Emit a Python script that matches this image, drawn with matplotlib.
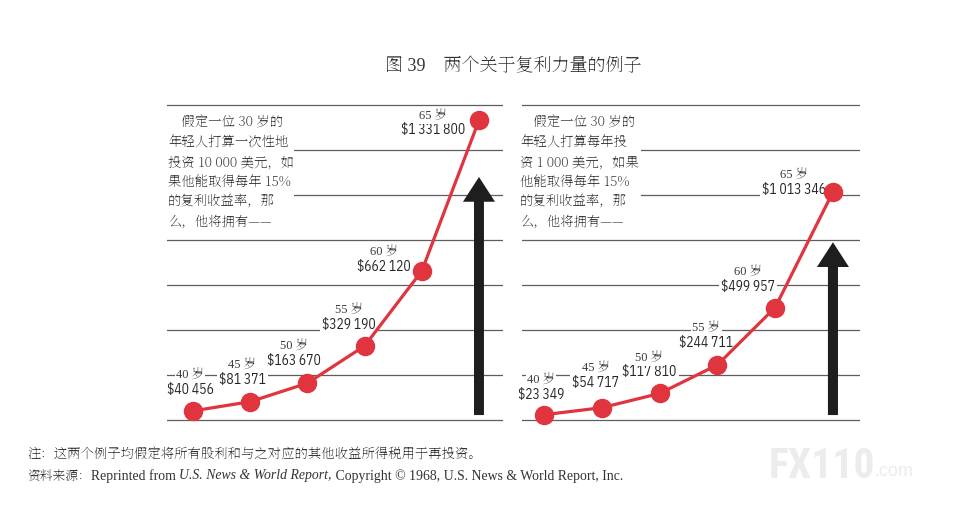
import matplotlib
matplotlib.use('Agg')
import matplotlib.pyplot as plt
from matplotlib.patches import Rectangle
import numpy as np

SERIF_CJK = ['Noto Serif SC', 'Noto Sans CJK SC', 'DejaVu Sans']
plt.rcParams['font.family'] = SERIF_CJK

# data
ages = [40, 45, 50, 55, 60, 65]
lump_sum = [40456, 81371, 163670, 329190, 662120, 1331800]
yearly = [23349, 54717, 117810, 244711, 499957, 1013346]
lump_labels = ['$40\u2009456', '$81\u2009371', '$163\u2009670', '$329\u2009190',
               '$662\u2009120', '$1\u2009331\u2009800']
yearly_labels = ['$23\u2009349', '$54\u2009717', '$117\u2009810', '$244\u2009711',
                 '$499\u2009957', '$1\u2009013\u2009346']
grid_values = np.arange(0, 1400001, 200000)
arrow_top = [1080000, 790000]

title = '图 39　两个关于复利力量的例子'
left_text = ['　假定一位 30 岁的', '年轻人打算一次性地', '投资 10 000 美元，如',
             '果他能取得每年 15%', '的复利收益率，那', '么，他将拥有——']
right_text = ['　假定一位 30 岁的', '年轻人打算每年投', '资 1 000 美元，如果',
              '他能取得每年 15%', '的复利收益率，那', '么，他将拥有——']
note = '注：这两个例子均假定将所有股利和与之对应的其他收益所得税用于再投资。'

W, H = 963, 530
RED = '#e0343f'
INK = '#262626'
NUM_FONT = ['IBM Plex Sans Condensed', 'PT Sans Narrow', 'Liberation Sans', 'DejaVu Sans']
AGE_FONT = ['Liberation Serif', 'Noto Serif SC', 'Noto Sans CJK SC']
LATIN_SERIF = ['Liberation Serif', 'Noto Serif SC', 'Noto Sans CJK SC']

# label offsets in pixels (dx, dy of the dollar line) for each point
left_offsets = [(-3, 21), (-8, 22), (-13, 22), (-16, 21), (-38, 4), (-46, -10)]
right_offsets = [(-3, 20), (-6, 25), (-10, 21), (-11, 22), (-27, 21), (-39, 2)]

fig = plt.figure(figsize=(W / 100, H / 100), dpi=100)
fig.patch.set_facecolor('white')


def fx(x):
        return x / W


def fy(y):
        return 1 - y / H


def panel(x0, x1, xlim, values, labels, offsets, top, head_w, shaft_w):
        ax = fig.add_axes([fx(x0), fy(425), fx(x1 - x0), 330 / H])
        ax.set_xlim(*xlim)
        ax.set_ylim(-22222, 1444444)
        ax.axis('off')
        for g in grid_values:
                ax.axhline(g, color='#5e5e5e', lw=0.9, zorder=1)
        ax.arrow(ages[-1], 22000, 0, top - 22000, width=shaft_w,
                 head_width=head_w, head_length=110000,
                 length_includes_head=True, color='#1e1e1e', lw=0, zorder=2)
        ax.plot(ages, values, color=RED, lw=2.3, zorder=4,
                marker='o', markersize=13, markerfacecolor=RED,
                markeredgecolor=RED)
        for a, v, lab, (dx, dy) in zip(ages, values, labels, offsets):
                ax.annotate(lab, (a, v), xytext=(dx, dy), textcoords='offset pixels',
                            ha='center', va='center', fontsize=9.8, color=INK,
                            family=NUM_FONT, zorder=3,
                            bbox=dict(boxstyle='square,pad=0.15', fc='white', ec='none'))
                ax.annotate('%d 岁' % a, (a, v), xytext=(dx, dy + 14),
                            textcoords='offset pixels', ha='center', va='center',
                            fontsize=9, color='#3a3a3a', family=AGE_FONT, zorder=3,
                            bbox=dict(boxstyle='square,pad=0.1', fc='white', ec='none'))
        return ax


panel(167, 503, (37.73, 67.10), lump_sum, lump_labels, left_offsets,
      arrow_top[0], 2.8, 0.87)
panel(522, 860, (38.10, 67.34), yearly, yearly_labels, right_offsets,
      arrow_top[1], 2.77, 0.87)

fig.text(fx(513), fy(67), title, ha='center', va='center', fontsize=13,
         family=LATIN_SERIF, color='#333333')

# the two explanatory paragraphs, on a white patch that breaks the grid lines
for x0, x1, lines in [(168, 294, left_text), (520, 641, right_text)]:
        fig.patches.append(Rectangle((fx(x0 - 2), fy(232)), fx(x1 - x0 + 2), 120 / H,
                                     transform=fig.transFigure, fc='white', ec='none',
                                     zorder=1))
        for i, line in enumerate(lines):
                fig.text(fx(x0), fy(123 + 19.7 * i), line, ha='left', va='center',
                         fontsize=9.6, color='#3a3a3a', zorder=2)

fig.text(fx(27), fy(455), note, ha='left', va='center', fontsize=9.6,
         color='#333333')

# source line, pieces laid out one after another
renderer = fig.canvas.get_renderer()
pieces = [('资料来源：', SERIF_CJK, 'normal', 9.2),
          ('Reprinted from ', LATIN_SERIF, 'normal', 9.9),
          ('U.S. News & World Report,', LATIN_SERIF, 'italic', 9.9),
          (' Copyright © 1968, U.S. News & World Report, Inc.', LATIN_SERIF, 'normal', 9.9)]
x = fx(27)
for txt, fam, style, size in pieces:
        t = fig.text(x, fy(476), txt, ha='left', va='center', fontsize=size,
                     family=fam, style=style, color='#333333')
        bb = t.get_window_extent(renderer)
        x = bb.x1 / W

fig.text(fx(769), fy(466), 'FX110', ha='left', va='center', fontsize=30,
         fontweight='bold', family=['Roboto Condensed', 'Liberation Sans'],
         color='#ececec')
fig.text(fx(874), fy(471), '.com', ha='left', va='center', fontsize=13,
         family=['Liberation Sans'], color='#ececec')

plt.savefig('out.png', dpi=100, facecolor='white')
